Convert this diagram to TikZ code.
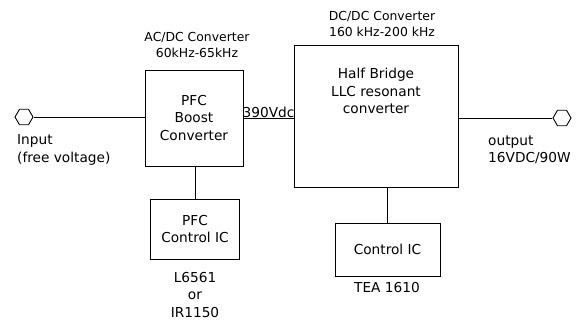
\documentclass[tikz,border=0pt]{standalone}
\usepackage{fontspec}
\setmainfont{DejaVu Sans}
\usetikzlibrary{shapes.geometric}
\begin{document}
\begin{tikzpicture}[x=1pt,y=-1pt,
  box/.style={draw,line width=0.9pt,rectangle,inner sep=0pt},
  big/.style={font=\fontsize{13.7}{17.5}\selectfont,align=center,inner sep=0pt},
  small/.style={font=\fontsize{12.4}{16}\selectfont,align=center,inner sep=0pt},
  term/.style={draw,line width=0.9pt,regular polygon,regular polygon sides=6,minimum size=18pt,inner sep=0pt},
  wire/.style={line width=0.9pt}]
\useasboundingbox (0,0) rectangle (585,320);
% boxes
\node[box,minimum width=98pt,minimum height=96pt,big] (boost) at (194,118) {PFC\\Boost\\Converter};
\node[box,minimum width=164pt,minimum height=142pt] (llc) at (376,116) {};
\node[big] (llctext) at (376,91) {Half Bridge\\LLC resonant\\converter};
\node[box,minimum width=89pt,minimum height=60pt,big] (pfcic) at (195,229) {PFC\\Control IC};
\node[box,minimum width=105pt,minimum height=53pt,big] (ic) at (387.5,249.5) {Control IC};
% terminals
\node[term] (in) at (24,117) {};
\node[term] (out) at (562,118) {};
% wires
\draw[wire] (in.east) -- (in.east -| boost.west);
\draw[wire] (boost.east |- 0,118) -- (llc.west |- 0,118);
\draw[wire] (llc.east |- out.west) -- (out.west);
\draw[wire] (boost.south -| pfcic.north) -- (pfcic.north);
\draw[wire] (llc.south -| ic.north) -- (ic.north);
% labels
\node[big,anchor=south] (vdc) at (268.5,118) {390Vdc};
\node[big,anchor=west,align=left] (inlbl) at (17,150) {Input\\(free voltage)};
\node[big,anchor=west,align=left] (outlbl) at (488,150) {output\\16VDC/90W};
\node[small] (acdc) at (197,45) {AC/DC Converter\\60kHz-65kHz};
\node[small] (dcdc) at (382,24) {DC/DC Converter\\160 kHz-200 kHz};
\node[big] (pfcpart) at (195,295) {L6561\\or\\IR1150};
\node[big] (icpart) at (387,288) {TEA 1610};
\end{tikzpicture}
\end{document}
